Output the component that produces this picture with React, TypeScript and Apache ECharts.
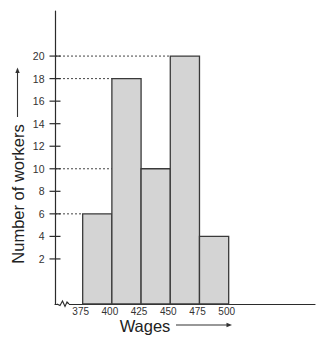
import React, { useEffect, useRef } from "react";
import * as echarts from "echarts";

const binStarts = [375, 400, 425, 450, 475];
const binWidth = 25;
const workers = [6, 18, 10, 20, 4];
const xTickLabels = [375, 400, 425, 450, 475, 500];
const yTickLabels = [2, 4, 6, 8, 10, 12, 14, 16, 18, 20];
const guideValues = [6, 18, 10, 20];
const guideEnds = [375, 400, 400, 450];

const X_MIN = 351.3;
const X_MAX = 573.9;
const Y_MIN = -2;
const Y_MAX = 24;

const INK = "#2b2b2b";

export default function App() {
  const ref = useRef<HTMLDivElement>(null);
  useEffect(() => {
    if (!ref.current) return;
    const chart = echarts.init(ref.current, undefined, { renderer: "svg" });
    const barData = binStarts.map((s, i) => [s, s + binWidth, workers[i]]);
    const tickData = yTickLabels.map((v) => [X_MIN, v]);
    const guideData = guideValues.map((v, i) => [guideEnds[i], v]);
    const font = "Liberation Sans, Arial, sans-serif";
    chart.setOption({
      animation: false,
      backgroundColor: "#ffffff",
      grid: { left: 55, right: 9, top: 11, bottom: 43, containLabel: false },
      xAxis: {
        type: "value",
        min: X_MIN,
        max: X_MAX,
        axisLine: { show: true, onZero: false, lineStyle: { color: INK, width: 1.2 } },
        axisTick: { show: false },
        splitLine: { show: false },
        axisLabel: {
          customValues: xTickLabels,
          margin: 2,
          fontSize: 10,
          color: "#333",
          fontFamily: font,
          padding: [0, 4, 0, 0],
          formatter: (v: number) => String(v),
        },
      },
      yAxis: {
        type: "value",
        min: Y_MIN,
        max: Y_MAX,
        axisLine: { show: true, onZero: false, lineStyle: { color: INK, width: 1.2 } },
        axisTick: { show: false },
        splitLine: { show: false },
        axisLabel: {
          customValues: yTickLabels,
          margin: 10.5,
          fontSize: 10.5,
          color: "#333",
          fontFamily: font,
          formatter: (v: number) => String(v),
        },
      },
      series: [
        {
          type: "custom",
          name: "guides",
          data: guideData,
          encode: { x: 0, y: 1 },
          z: 1,
          renderItem: (params: any, api: any) => {
            const end = api.coord([api.value(0), api.value(1)]);
            const start = api.coord([X_MIN, api.value(1)]);
            return {
              type: "line",
              shape: { x1: start[0], y1: start[1], x2: end[0], y2: end[1] },
              style: { stroke: "#444", lineWidth: 1, lineDash: [2, 2] },
            };
          },
        },
        {
          type: "custom",
          name: "bars",
          data: barData,
          encode: { x: [0, 1], y: 2 },
          z: 2,
          renderItem: (params: any, api: any) => {
            const p0 = api.coord([api.value(0), api.value(2)]);
            const p1 = api.coord([api.value(1), Y_MIN]);
            return {
              type: "rect",
              shape: { x: p0[0], y: p0[1], width: p1[0] - p0[0], height: p1[1] - p0[1] },
              style: { fill: "#d4d4d4", stroke: "#3a3a3a", lineWidth: 1.3 },
            };
          },
        },
        {
          type: "custom",
          name: "ticks",
          data: tickData,
          encode: { x: 0, y: 1 },
          z: 3,
          renderItem: (params: any, api: any) => {
            const p = api.coord([api.value(0), api.value(1)]);
            return {
              type: "line",
              shape: { x1: p[0] - 5.5, y1: p[1], x2: p[0] + 5.5, y2: p[1] },
              style: { stroke: INK, lineWidth: 1.2 },
            };
          },
        },
      ],
      graphic: [
        {
          type: "rect",
          shape: { x: 58, y: 302, width: 11, height: 4 },
          style: { fill: "#ffffff" },
          z: 100,
        },
        {
          type: "polyline",
          shape: {
            points: [
              [57, 304],
              [60, 305.5],
              [62.5, 301],
              [65, 306.5],
              [67, 302],
              [69, 304],
            ],
          },
          style: { stroke: INK, lineWidth: 1.1, fill: "none" },
          z: 101,
        },
        {
          type: "text",
          x: 17.5,
          y: 194,
          rotation: Math.PI / 2,
          style: {
            text: "Number of workers",
            fontSize: 16.5,
            fontFamily: font,
            fill: "#222",
            align: "center",
            verticalAlign: "middle",
          },
          z: 100,
        },
        {
          type: "line",
          shape: { x1: 17.5, y1: 117, x2: 17.5, y2: 71 },
          style: { stroke: "#333", lineWidth: 1.1 },
          z: 100,
        },
        {
          type: "polygon",
          shape: { points: [[17.5, 67.5], [15.3, 73], [19.7, 73]] },
          style: { fill: "#333" },
          z: 100,
        },
        {
          type: "text",
          x: 145,
          y: 326,
          style: {
            text: "Wages",
            fontSize: 16.5,
            fontFamily: font,
            fill: "#222",
            align: "center",
            verticalAlign: "middle",
          },
          z: 100,
        },
        {
          type: "line",
          shape: { x1: 176, y1: 325, x2: 228, y2: 325 },
          style: { stroke: "#333", lineWidth: 1.1 },
          z: 100,
        },
        {
          type: "polygon",
          shape: { points: [[232, 325], [226.5, 322.8], [226.5, 327.2]] },
          style: { fill: "#333" },
          z: 100,
        },
      ],
    });
    return () => chart.dispose();
  }, []);
  return (
    <div
      ref={ref}
      style={{ position: "fixed", left: 0, top: 0, width: 324, height: 347 }}
    />
  );
}
